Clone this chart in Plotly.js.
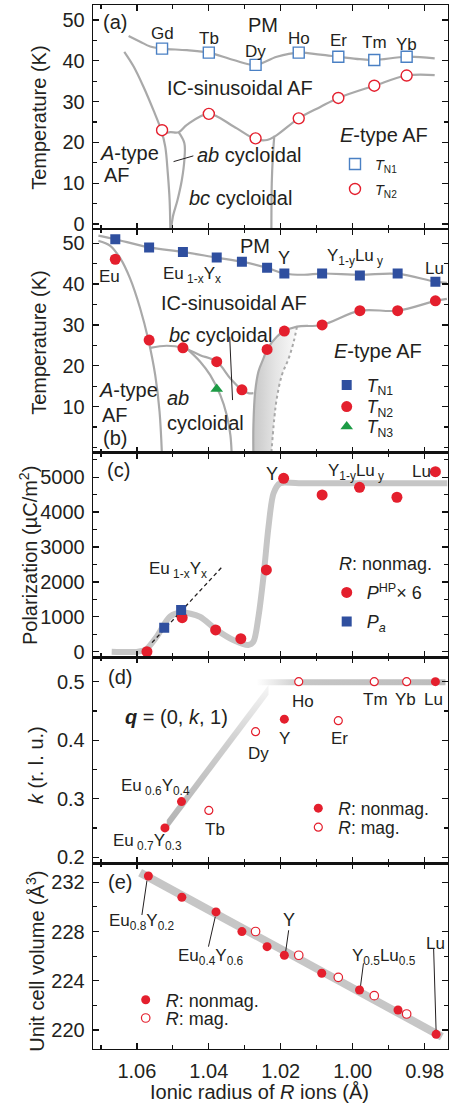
<!DOCTYPE html>
<html><head><meta charset="utf-8">
<script src="https://cdn.plot.ly/plotly-3.0.1.min.js"></script>
<style>html,body{margin:0;padding:0;background:#fff;}#chart{width:449px;height:1107px;}</style>
</head><body><div id="chart"></div>
<script>
// ===================== DATA =====================
// (a) RMnO3 with R = Gd ... Yb
const aRadius = [1.053, 1.040, 1.027, 1.015, 1.004, 0.994, 0.985];
const aLabels = ['Gd', 'Tb', 'Dy', 'Ho', 'Er', 'Tm', 'Yb'];
const aTN1 = [43.0, 42.0, 39.0, 42.0, 41.0, 40.2, 41.0];
const aTN2 = [23.0, 27.0, 21.0, 25.9, 30.9, 33.9, 36.4];
// (a) phase boundaries (guides)
const aBndN1X = [1.0623, 1.0591, 1.0563, 1.053, 1.0461, 1.040, 1.0331, 1.027, 1.0211, 1.015, 1.009, 1.004, 0.998, 0.994, 0.985, 0.9772];
const aBndN1T = [46.1, 44.7, 43.5, 43.0, 42.6, 42.0, 40.2, 39.0, 41.0, 42.0, 41.5, 41.0, 40.4, 40.2, 41.0, 40.6];
const aBndAX = [1.0635, 1.0609, 1.0582, 1.0554, 1.0532, 1.0521, 1.0514, 1.0509, 1.0507];
const aBndAT = [42.2, 38.6, 33.7, 27.9, 22.9, 18.9, 12.4, 5.9, -1.5];
const aBndN2X = [1.0526, 1.0507, 1.0484, 1.0461, 1.040, 1.0331, 1.027, 1.0238, 1.0211, 1.015, 1.009, 1.004, 0.994, 0.985, 0.9772];
const aBndN2T = [22.2, 22.5, 22.5, 24.3, 27.0, 23.9, 20.8, 20.6, 21.8, 25.9, 28.7, 30.9, 33.9, 36.4, 36.5];
const aBndABX = [1.0484, 1.0468, 1.0468, 1.0475, 1.0487, 1.050, 1.0505];
const aBndABT = [22.5, 19.8, 15.7, 10.8, 5.9, 1.8, -1.5];
const aBndVX = [1.0218, 1.0222, 1.0225, 1.0226];
const aBndVT = [21.6, 16.5, 10.0, -1.5];
const aPointerX = [1.0498, 1.0443];
const aPointerT = [15.3, 16.7];

// (b) Eu1-xYxMnO3 and Y1-yLuyMnO3
const bRadius = [1.066, 1.0566, 1.0472, 1.0378, 1.0308, 1.0238, 1.019, 1.0085, 0.998, 0.9875, 0.977];
const bTN1 = [51.0, 49.0, 47.9, 46.5, 45.5, 44.0, 42.6, 42.6, 42.1, 42.6, 40.6];
const bTN2 = [46.1, 26.3, 24.4, 21.0, 14.1, 24.0, 28.5, 30.0, 33.5, 33.5, 35.9];
const bTN3Radius = [1.0378];
const bTN3 = [14.3];
// (b) phase boundaries (guides)
const bBndN1X = [1.0707, 1.066, 1.0566, 1.0472, 1.0378, 1.0308, 1.0238, 1.019, 1.0135, 1.0085, 0.998, 0.9875, 0.977, 0.9738];
const bBndN1T = [51.9, 51.0, 49.0, 47.9, 46.5, 45.5, 44.0, 42.6, 42.3, 42.6, 42.3, 42.5, 40.6, 40.3];
const bBndAX = [1.0707, 1.0674, 1.0646, 1.0619, 1.0591, 1.0568, 1.0549, 1.0537, 1.053];
const bBndAT = [50.6, 49.4, 46.3, 41.4, 34.1, 26.3, 17.7, 8.8, -2.5];
const bBndN2LX = [1.0563, 1.0517, 1.0472, 1.0424, 1.0378, 1.034, 1.0308, 1.029, 1.0276];
const bBndN2LT = [24.4, 24.9, 24.4, 22.6, 21.0, 16.9, 14.1, 13.3, 13.3];
const bBndABX = [1.0461, 1.0424, 1.0396, 1.0368, 1.035, 1.034, 1.0336];
const bBndABT = [24.2, 21.0, 17.7, 12.8, 7.9, 3.0, -2.5];
const bBndEX = [1.0276, 1.0276, 1.0271, 1.0262, 1.0248, 1.0238, 1.0211, 1.019, 1.0155, 1.0085, 0.998, 0.9875, 0.977, 0.9738];
const bBndET = [-2.5, 5.5, 13.7, 18.6, 21.8, 24.0, 27.1, 28.5, 29.6, 30.0, 33.5, 33.5, 35.9, 36.4];
const bBndDashX = [1.0155, 1.0164, 1.0178, 1.0197, 1.0211, 1.0218, 1.0227];
const bBndDashT = [29.6, 25.9, 21.8, 17.7, 12.0, 7.1, -2.5];
const bPointerX = [1.0342, 1.0334];
const bPointerT = [27.1, 11.6];

// (c) Polarization
const cRadius = [1.0572, 1.0474, 1.0381, 1.0311, 1.024, 1.0192, 1.0085, 0.9981, 0.9877, 0.977];
const cPHP = [0, 975, 622, 373, 2342, 4971, 4492, 4713, 4427, 5161];
const cPaRadius = [1.0524, 1.0477];
const cPa = [688, 1195];
const cGuideX = [1.067, 1.0597, 1.0575, 1.0545, 1.0508, 1.0476, 1.0425, 1.0378, 1.0332, 1.029, 1.0276, 1.0262, 1.0248, 1.0234, 1.022, 1.0202, 1.015, 0.9737];
const cGuideP = [0, 0, 60, 430, 1003, 1120, 1003, 622, 335, 192, 287, 1003, 2150, 3584, 4541, 4828, 4828, 4828];
const cDashX = [1.0558, 1.0364];
const cDashP = [258, 2420];

// (d) propagation vector k
const dNonmagX = [1.0522, 1.0476, 1.019, 0.977];
const dNonmagK = [0.250, 0.295, 0.436, 0.500];
const dMagX = [1.040, 1.027, 1.015, 1.004, 0.994, 0.985];
const dMagK = [0.280, 0.4145, 0.500, 0.4333, 0.500, 0.500];
const dDiagX = [1.0517, 1.0234];
const dDiagK = [0.255, 0.486];
const dFlatX = [1.0267, 0.9742];
const dFlatK = [0.499, 0.499];

// (e) unit cell volume
const eNonmagX = [1.0568, 1.0475, 1.038, 1.0308, 1.0238, 1.019, 1.0086, 0.9981, 0.9874, 0.9768];
const eNonmagV = [232.51, 230.78, 229.59, 227.99, 226.77, 226.07, 224.61, 223.25, 221.63, 219.65];
const eMagX = [1.027, 1.015, 1.004, 0.994, 0.985];
const eMagV = [228.0, 226.07, 224.28, 222.79, 221.3];
const eGuideX = [1.0591, 0.9752];
const eGuideV = [232.78, 219.46];
const ePointers = [
  [[1.0572, 1.0586], [232.13, 229.34]],
  [[1.0382, 1.0401], [229.2, 226.77]],
  [[1.0178, 1.0187], [228.1, 226.23]],
  [[0.997, 0.9979], [225.42, 223.39]],
  [[0.9775, 0.9768], [226.64, 219.86]]
];

// ===================== STYLE =====================
const FONT = 'Liberation Sans, Arial, Helvetica, sans-serif';
const TXT = '#231f20';
const RED = '#e41f2d', BLUE = '#2f4f9f', LBLUE = '#4a80c4', GREEN = '#1c9b45';
const LINE = '#a9a9a9', THICK = '#c6c6c6';

const traces = [];
function guide(xa, ya, x, y, extra) {
  traces.push(Object.assign({type: 'scatter', mode: 'lines', x: x, y: y, xaxis: xa, yaxis: ya,
    line: {color: LINE, width: 2.2, shape: 'spline', smoothing: 1}, showlegend: false, hoverinfo: 'skip'}, extra || {}));
}

// ---- (a)
guide('x', 'y', aBndN1X, aBndN1T);
guide('x', 'y', aBndAX, aBndAT);
guide('x', 'y', aBndN2X, aBndN2T);
guide('x', 'y', aBndABX, aBndABT);
guide('x', 'y', aBndVX, aBndVT);
guide('x', 'y', aPointerX, aPointerT, {line: {color: TXT, width: 1, shape: 'linear'}});
traces.push({type: 'scatter', mode: 'markers', x: aRadius, y: aTN1, xaxis: 'x', yaxis: 'y', name: '<i>T</i><sub>N1</sub>', legend: 'legend',
  marker: {symbol: 'square', size: 11, color: 'white', line: {color: LBLUE, width: 1.4}}});
traces.push({type: 'scatter', mode: 'markers', x: aRadius, y: aTN2, xaxis: 'x', yaxis: 'y', name: '<i>T</i><sub>N2</sub>', legend: 'legend2',
  marker: {symbol: 'circle', size: 11, color: 'white', line: {color: RED, width: 1.4}}});

// ---- (b)
const nE = bBndEX.indexOf(1.0155) + 1;
traces.push({type: 'scatter', mode: 'lines', xaxis: 'x2', yaxis: 'y2', showlegend: false, hoverinfo: 'skip',
  x: bBndEX.slice(0, nE).concat(bBndDashX), y: bBndET.slice(0, nE).concat(bBndDashT),
  fill: 'toself', line: {width: 0, color: 'rgba(0,0,0,0)', shape: 'spline'},
  fillcolor: '#e6e6e6',
  fillgradient: {type: 'horizontal', colorscale: [[0, 'rgb(200,200,200)'], [0.5, 'rgb(228,228,228)'], [1, 'rgb(250,250,250)']]}});
guide('x2', 'y2', bBndN1X, bBndN1T);
guide('x2', 'y2', bBndAX, bBndAT);
guide('x2', 'y2', bBndN2LX, bBndN2LT);
guide('x2', 'y2', bBndABX, bBndABT);
guide('x2', 'y2', bBndEX, bBndET);
guide('x2', 'y2', bBndDashX, bBndDashT, {line: {color: LINE, width: 2, dash: 'dot', shape: 'spline'}});
guide('x2', 'y2', bPointerX, bPointerT, {line: {color: TXT, width: 1, shape: 'linear'}});
traces.push({type: 'scatter', mode: 'markers', x: bRadius, y: bTN1, xaxis: 'x2', yaxis: 'y2', name: '<i>T</i><sub>N1</sub>', legend: 'legend3',
  marker: {symbol: 'square', size: 10, color: BLUE}});
traces.push({type: 'scatter', mode: 'markers', x: bRadius, y: bTN2, xaxis: 'x2', yaxis: 'y2', name: '<i>T</i><sub>N2</sub>', legend: 'legend4',
  marker: {symbol: 'circle', size: 11, color: RED}});
traces.push({type: 'scatter', mode: 'markers', x: bTN3Radius, y: bTN3, xaxis: 'x2', yaxis: 'y2', name: '<i>T</i><sub>N3</sub>', legend: 'legend5',
  marker: {symbol: 'triangle-up', size: 11, color: GREEN}});

// ---- (c)
guide('x3', 'y3', cGuideX, cGuideP, {line: {color: THICK, width: 6, shape: 'spline', smoothing: 0.8}});
guide('x3', 'y3', cDashX, cDashP, {line: {color: TXT, width: 1.3, dash: '4px,3px', shape: 'linear'}});
traces.push({type: 'scatter', mode: 'markers', x: cRadius, y: cPHP, xaxis: 'x3', yaxis: 'y3', name: '<i>P</i><sup>HP</sup>× 6', legend: 'legend6',
  marker: {symbol: 'circle', size: 11, color: RED}});
traces.push({type: 'scatter', mode: 'markers', x: cPaRadius, y: cPa, xaxis: 'x3', yaxis: 'y3', name: '<i>P<sub>a</sub></i>', legend: 'legend7',
  marker: {symbol: 'square', size: 10, color: BLUE}});

// ---- (d)
const dHalfDiag = 0.0085, dHalfFlat = 0.0052;
traces.push({type: 'scatter', mode: 'lines', xaxis: 'x4', yaxis: 'y4', showlegend: false, hoverinfo: 'skip',
  x: [dDiagX[0], dDiagX[1], dDiagX[1], dDiagX[0]],
  y: [dDiagK[0] - dHalfDiag, dDiagK[1] - dHalfDiag, dDiagK[1] + dHalfDiag, dDiagK[0] + dHalfDiag],
  fill: 'toself', line: {width: 0, color: 'rgba(0,0,0,0)'}, fillcolor: '#cccccc',
  fillgradient: {type: 'vertical', colorscale: [[0, '#b2b2b2'], [0.6, '#cfcfcf'], [1, '#f6f6f6']]}});
traces.push({type: 'scatter', mode: 'lines', xaxis: 'x4', yaxis: 'y4', showlegend: false, hoverinfo: 'skip',
  x: [dFlatX[0], dFlatX[1], dFlatX[1], dFlatX[0]],
  y: [dFlatK[0] - dHalfFlat, dFlatK[1] - dHalfFlat, dFlatK[1] + dHalfFlat, dFlatK[0] + dHalfFlat],
  fill: 'toself', line: {width: 0, color: 'rgba(0,0,0,0)'}, fillcolor: '#c0c0c0',
  fillgradient: {type: 'horizontal', colorscale: [[0, '#ffffff'], [0.25, '#c6c6c6'], [1, '#bcbcbc']]}});
traces.push({type: 'scatter', mode: 'markers', x: dNonmagX, y: dNonmagK, xaxis: 'x4', yaxis: 'y4', name: '<i>R</i>: nonmag.', legend: 'legend8',
  marker: {symbol: 'circle', size: 9, color: RED}});
traces.push({type: 'scatter', mode: 'markers', x: dMagX, y: dMagK, xaxis: 'x4', yaxis: 'y4', name: '<i>R</i>: mag.', legend: 'legend9',
  marker: {symbol: 'circle', size: 8, color: 'white', line: {color: RED, width: 1.2}}});

// ---- (e)
guide('x5', 'y5', eGuideX, eGuideV, {line: {color: THICK, width: 8, shape: 'linear'}});
ePointers.forEach(p => guide('x5', 'y5', p[0], p[1], {line: {color: TXT, width: 1, shape: 'linear'}}));
traces.push({type: 'scatter', mode: 'markers', x: eNonmagX, y: eNonmagV, xaxis: 'x5', yaxis: 'y5', name: '<i>R</i>: nonmag.', legend: 'legend10',
  marker: {symbol: 'circle', size: 9, color: RED}});
traces.push({type: 'scatter', mode: 'markers', x: eMagX, y: eMagV, xaxis: 'x5', yaxis: 'y5', name: '<i>R</i>: mag.', legend: 'legend11',
  marker: {symbol: 'circle', size: 8.5, color: 'white', line: {color: RED, width: 1.2}}});

// ===================== LAYOUT =====================
const L = 93, R = 1, T = 5, B = 58, W = 449, H = 1107;
const PW = W - L - R, PH = H - T - B;
const XR = [1.0722, 0.9735];
const doms = [[0.7854, 1], [0.5712, 0.7854], [0.3752, 0.5712], [0.1779, 0.3752], [0, 0.1779]];
const tickFont = {family: FONT, size: 20, color: TXT};
function xax(i) {
  const o = {domain: [0, 1], range: XR, anchor: i === 1 ? 'y' : 'y' + i, showline: true, linecolor: '#111', linewidth: 1.3,
    mirror: 'ticks', ticks: 'inside', ticklen: 6, tickwidth: 1.3, tickcolor: '#111', showgrid: false, zeroline: false,
    dtick: 0.02, tick0: 0, tickformat: '.2f', tickfont: tickFont, showticklabels: i === 5, ticklabelstandoff: 4,
    minor: {ticks: 'inside', ticklen: 4, tickwidth: 1.2, tickcolor: '#111', dtick: 0.01, tick0: 0, showgrid: false}};
  if (i > 1) o.matches = 'x';
  return o;
}
function yax(i, range, major, minor, extra) {
  return Object.assign({domain: doms[i - 1], range: range, anchor: i === 1 ? 'x' : 'x' + i, showline: true, linecolor: '#111', linewidth: 1.3,
    mirror: 'ticks', ticks: 'inside', ticklen: 6, tickwidth: 1.3, tickcolor: '#111', showgrid: false, zeroline: false,
    dtick: major, tick0: 0, tickfont: tickFont, ticklabelstandoff: 3,
    minor: {ticks: 'inside', ticklen: 4, tickwidth: 1.2, tickcolor: '#111', dtick: minor, tick0: 0, showgrid: false}}, extra || {});
}

function legendAt(px, py, size) {
  return {x: (px - 20 - L) / PW, y: (H - B - py) / PH, xanchor: 'left', yanchor: 'middle', bgcolor: 'rgba(0,0,0,0)',
    borderwidth: 0, font: {family: FONT, size: size, color: TXT}, itemclick: false, itemdoubleclick: false, tracegroupgap: 0};
}

const anns = [];
function A(xr, yr, x, y, text, size, extra) {
  anns.push(Object.assign({xref: xr, yref: yr, x: x, y: y, text: text, showarrow: false,
    font: {family: FONT, size: size, color: TXT}, xanchor: 'center', yanchor: 'middle'}, extra || {}));
}
// (a)
A('x', 'y', 1.066, 49.6, '(a)', 20);
A('x', 'y', 1.0248, 48.8, 'PM', 20);
const aLabelT = [46.6, 45.5, 42.3, 45.5, 44.9, 44.4, 44.1];
aLabels.forEach((t, i) => A('x', 'y', aRadius[i], aLabelT[i], t, 17));
A('x', 'y', 1.0313, 33.3, 'IC-sinusoidal AF', 20);
A('x', 'y', 0.9914, 21.8, '<i>E</i>-type AF', 20);
A('x', 'y', 1.0621, 17.3, '<i>A</i>-type', 20);
A('x', 'y', 1.0654, 12.0, 'AF', 20);
A('x', 'y', 1.0438, 16.9, '<i>ab</i> cycloidal', 20, {xanchor: 'left'});
A('x', 'y', 1.0461, 6.3, '<i>bc</i> cycloidal', 20, {xanchor: 'left'});
// (b)
A('x2', 'y2', 1.0271, 49.4, 'PM', 20);
A('x2', 'y2', 1.0676, 41.8, 'Eu', 17);
A('x2', 'y2', 1.0446, 42.2, 'Eu<sub> 1-x</sub>Y<sub>x</sub>', 17);
A('x2', 'y2', 1.019, 46.3, 'Y', 18);
A('x2', 'y2', 0.9993, 46.7, 'Y<sub>1-y</sub>Lu<sub> y</sub>', 17);
A('x2', 'y2', 0.9772, 43.9, 'Lu', 17);
A('x2', 'y2', 1.0329, 35.3, 'IC-sinusoidal AF', 20);
A('x2', 'y2', 1.0368, 27.5, '<i>bc</i> cycloidal', 20);
A('x2', 'y2', 0.9929, 23.5, '<i>E</i>-type AF', 20);
A('x2', 'y2', 1.0623, 14.1, '<i>A</i>-type', 20);
A('x2', 'y2', 1.066, 7.95, 'AF', 20);
A('x2', 'y2', 1.066, 2.24, '(b)', 20);
A('x2', 'y2', 1.0521, 12.0, '<i>ab</i>', 20, {xanchor: 'left'});
A('x2', 'y2', 1.0521, 5.9, 'cycloidal', 20, {xanchor: 'left'});
// (c)
A('x3', 'y3', 1.0651, 5209, '(c)', 20);
A('x3', 'y3', 1.0224, 5095, 'Y', 18);
A('x3', 'y3', 0.999, 5161, 'Y<sub>1-y</sub>Lu<sub> y</sub>', 17);
A('x3', 'y3', 0.981, 5161, 'Lu', 17);
A('x3', 'y3', 1.0487, 2342, 'Eu<sub> 1-x</sub>Y<sub>x</sub>', 17);
A('x3', 'y3', 0.9909, 2506, '<i>R</i>: nonmag.', 18);
// (d)
A('x4', 'y4', 1.0646, 0.5085, '(d)', 20);
A('x4', 'y4', 1.0489, 0.440, '<b><i>q</i></b> = (0, <i>k</i>, 1)', 20);
A('x4', 'y4', 1.0137, 0.4658, 'Ho', 17);
A('x4', 'y4', 0.9937, 0.470, 'Tm', 17);
A('x4', 'y4', 0.9854, 0.470, 'Yb', 17);
A('x4', 'y4', 0.9775, 0.470, 'Lu', 17);
A('x4', 'y4', 1.0262, 0.3764, 'Dy', 17);
A('x4', 'y4', 1.019, 0.4032, 'Y', 17);
A('x4', 'y4', 1.0036, 0.4032, 'Er', 17);
A('x4', 'y4', 1.0547, 0.3205, 'Eu<sub> 0.6</sub>Y<sub>0.4</sub>', 17);
A('x4', 'y4', 1.0382, 0.2465, 'Tb', 17);
A('x4', 'y4', 1.057, 0.2265, 'Eu<sub> 0.7</sub>Y<sub>0.3</sub>', 17);
// (e)
A('x5', 'y5', 1.0648, 232.05, '(e)', 20);
A('x5', 'y5', 1.0586, 228.8, 'Eu<sub>0.8</sub>Y<sub>0.2</sub>', 17);
A('x5', 'y5', 1.0394, 225.96, 'Eu<sub>0.4</sub>Y<sub>0.6</sub>', 17);
A('x5', 'y5', 1.0176, 228.94, 'Y', 18);
A('x5', 'y5', 0.9914, 225.96, 'Y<sub>0.5</sub>Lu<sub>0.5</sub>', 17);
A('x5', 'y5', 0.977, 227.0, 'Lu', 17);
// axis titles
A('paper', 'paper', -0.154, 0.8922, 'Temperature (K)', 20, {textangle: -90});
A('paper', 'paper', -0.154, 0.6767, 'Temperature (K)', 20, {textangle: -90});
A('paper', 'paper', -0.183, 0.4722, 'Polarization (µC/m<sup>2</sup>)', 20, {textangle: -90});
A('paper', 'paper', -0.1606, 0.272, '<i>k</i> (r. l. u.)', 20, {textangle: -90});
A('paper', 'paper', -0.163, 0.0838, 'Unit cell volume (Å<sup>3</sup>)', 20, {textangle: -90});
A('paper', 'paper', 0.4704, -0.0409, 'Ionic radius of <i>R</i> ions (Å)', 20);

const layout = {
  width: W, height: H, margin: {l: L, r: R, t: T, b: B}, paper_bgcolor: 'white', plot_bgcolor: 'white',
  font: {family: FONT, color: TXT}, showlegend: true, annotations: anns,
  xaxis: xax(1), xaxis2: xax(2), xaxis3: xax(3), xaxis4: xax(4), xaxis5: xax(5),
  yaxis: yax(1, [-1.23, 53.68], 10, 5),
  yaxis2: yax(2, [-1.29, 53.5], 10, 5, {tickmode: 'array', tickvals: [10, 20, 30, 40, 50]}),
  yaxis3: yax(3, [-161, 5705], 1000, 500, {tickformat: 'd', exponentformat: 'none'}),
  yaxis4: yax(4, [0.1896, 0.5417], 0.1, 0.05, {tickformat: '.1f'}),
  yaxis5: yax(5, [218.46, 233.54], 4, 2),
  legend: legendAt(355, 164, 14.5), legend2: legendAt(355, 189, 14.5),
  legend3: legendAt(346.7, 385, 17.5), legend4: legendAt(346.7, 406.7, 17.5), legend5: legendAt(346.7, 426.7, 17.5),
  legend6: legendAt(346.7, 592.7, 18), legend7: legendAt(346.7, 621.7, 18),
  legend8: legendAt(318.3, 808.3, 17.5), legend9: legendAt(318.3, 827.3, 17.5),
  legend10: legendAt(145.7, 1000, 18), legend11: legendAt(145.7, 1018.3, 18)
};

Plotly.newPlot('chart', traces, layout, {displayModeBar: false, staticPlot: true});
</script>
</body></html>
